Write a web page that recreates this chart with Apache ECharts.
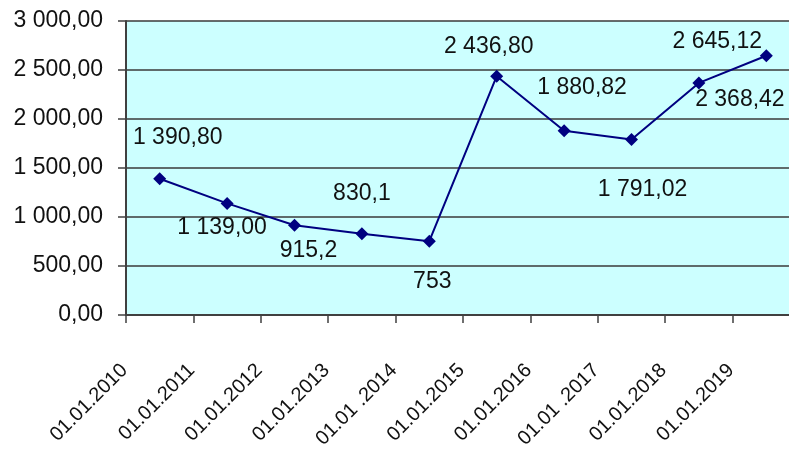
<!DOCTYPE html>
<html>
<head>
<meta charset="utf-8">
<script src="https://cdn.jsdelivr.net/npm/echarts@6/dist/echarts.min.js"></script>
<style>
  html, body { margin: 0; padding: 0; background: #ffffff; overflow: hidden; width: 789px; height: 453px; }
  /* plot area runs slightly past the right edge of the page */
  #chart { width: 800px; height: 453px; }
</style>
</head>
<body>
<div id="chart"></div>
<script>
// Dates of the observations
const categories = ['01.01.2010', '01.01.2011', '01.01.2012', '01.01.2013', '01.01 .2014',
  '01.01.2015', '01.01.2016', '01.01 .2017', '01.01.2018', '01.01.2019'];
// Values per date
const values = [1390.80, 1139.00, 915.2, 830.1, 753, 2436.80, 1880.82, 1791.02, 2368.42, 2645.12];
// Value labels as written next to each point
const valueLabels = ['1 390,80', '1 139,00', '915,2', '830,1', '753',
  '2 436,80', '1 880,82', '1 791,02', '2 368,42', '2 645,12'];
// Value axis range and step
const yMin = 0, yMax = 3000, yStep = 500;

// Placement of each value label relative to its point (px)
const labelOffsets = [[18, -41], [-5, 24], [14, 25], [0, -40], [3, 40],
  [-8, -30], [18, -43], [11, 50], [41, 17], [-49, -14]];

function fmtAxis(v) {
  const s = v.toFixed(2).split('.');
  const intPart = s[0].replace(/\B(?=(\d{3})+(?!\d))/g, ' ');
  return intPart + ',' + s[1];
}

const FONT = '"Liberation Sans", Arial, sans-serif';
const chart = echarts.init(document.getElementById('chart'), null, { renderer: 'canvas' });

chart.setOption({
  animation: false,
  backgroundColor: '#ffffff',
  grid: {
    left: 126, top: 21, right: 0, bottom: 138,
    show: true, backgroundColor: '#CCFFFF', borderWidth: 0,
    containLabel: false
  },
  xAxis: {
    type: 'category',
    data: categories,
    boundaryGap: true,
    axisLine: { show: true, lineStyle: { color: '#404040', width: 2 } },
    axisTick: { show: true, inside: false, length: 8, lineStyle: { color: '#404040', width: 1.5 } },
    axisLabel: {
      rotate: 45, interval: 0, margin: 17,
      padding: [0, 50, 0, 0],
      fontFamily: FONT, fontSize: 20, color: '#111'
    },
    splitLine: { show: false }
  },
  yAxis: {
    type: 'value',
    min: yMin, max: yMax, interval: yStep,
    axisLine: { show: true, lineStyle: { color: '#404040', width: 2 } },
    axisTick: { show: true, inside: false, length: 8, lineStyle: { color: '#404040', width: 1.5 } },
    axisLabel: {
      margin: 23, formatter: fmtAxis,
      fontFamily: FONT, fontSize: 23, color: '#111'
    },
    splitLine: { show: true, lineStyle: { color: '#3a3a3a', width: 1.5 } }
  },
  series: [{
    type: 'line',
    data: values.map((v, i) => ({
      value: v,
      label: { offset: labelOffsets[i], formatter: valueLabels[i] }
    })),
    symbol: 'diamond',
    symbolSize: 13,
    itemStyle: { color: '#000080' },
    lineStyle: { color: '#000080', width: 2 },
    label: {
      show: true, position: 'inside',
      fontFamily: FONT, fontSize: 23, color: '#111'
    }
  }]
});
</script>
</body>
</html>
